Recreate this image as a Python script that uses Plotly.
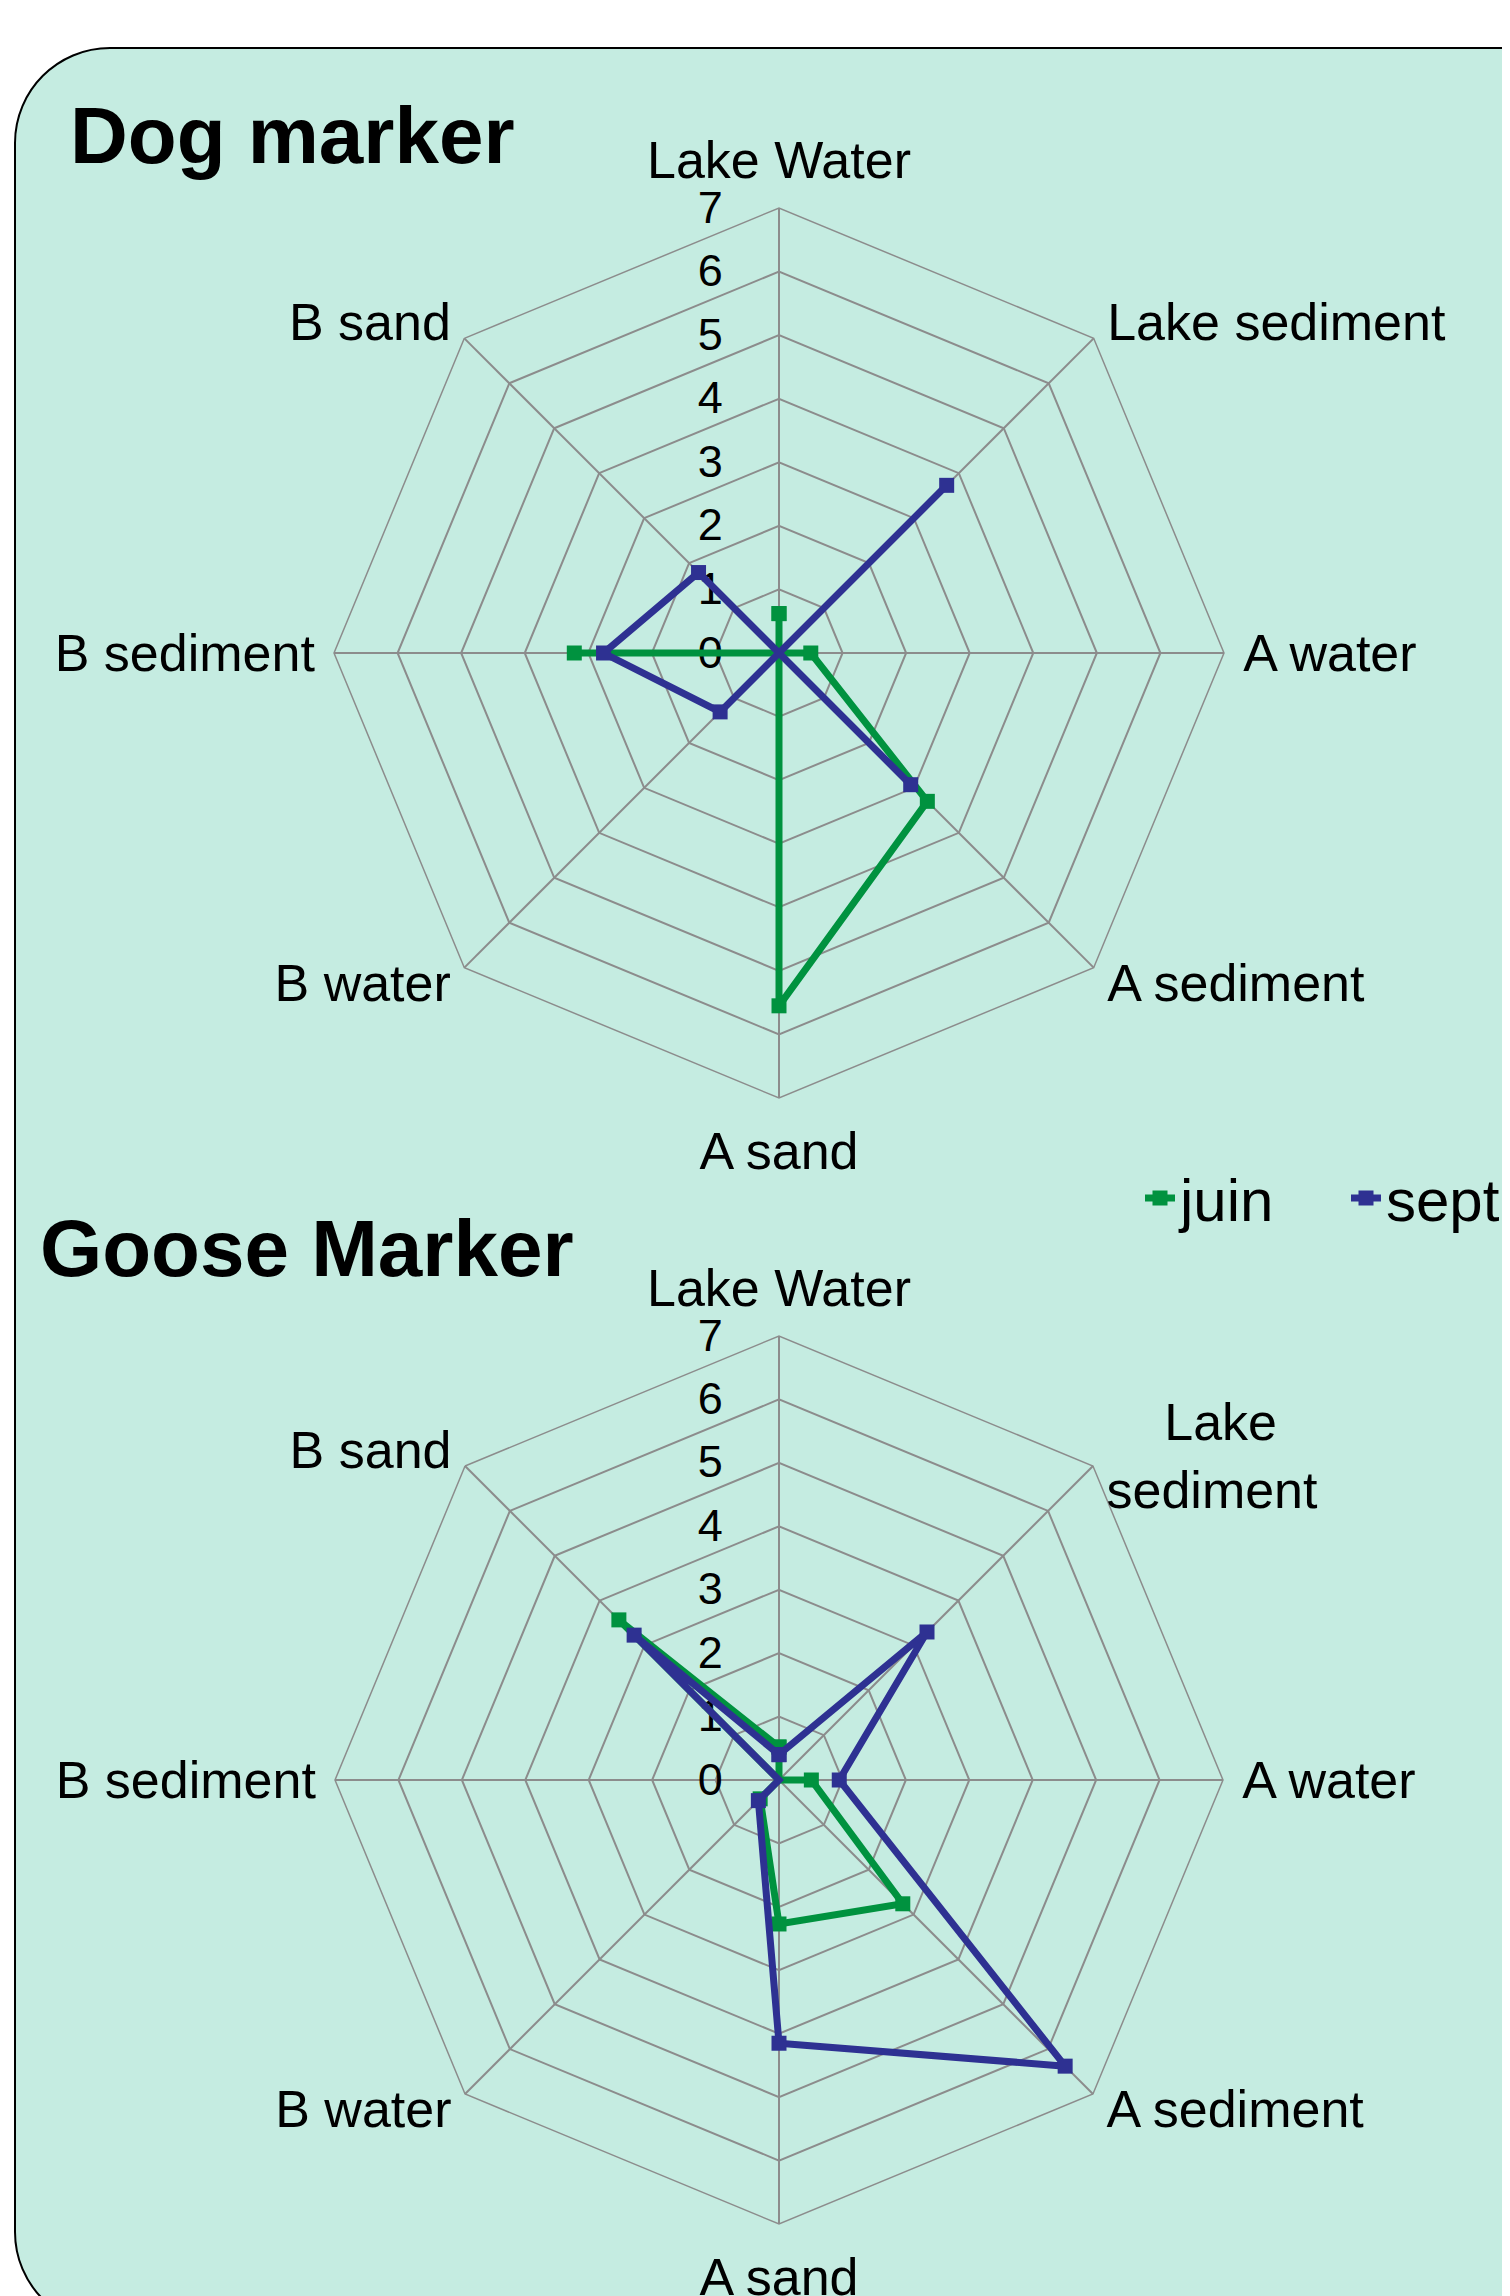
import plotly.graph_objects as go

# ---------------- data ----------------
categories = ["Lake Water", "Lake sediment", "A water", "A sediment",
              "A sand", "B water", "B sediment", "B sand"]
NB = "\u00a0"
dog_labels = ["Lake Water", NB + "<br>Lake sediment", "A water",
              "A sediment<br>" + NB + "<br>" + NB + "<br>" + NB,
              "A sand", "B water<br>" + NB + "<br>" + NB + "<br>" + NB,
              "B sediment", NB + "<br>B sand"]
goose_labels = ["Lake Water",
                NB + "<br>" + NB + "<br>" + NB + "<br>" + NB + "<br>" + NB * 4 + "Lake<br>sediment",
                "A water",
                "A sediment<br>" + NB + "<br>" + NB + "<br>" + NB,
                "A sand", "B water<br>" + NB + "<br>" + NB + "<br>" + NB,
                "B sediment", NB + "<br>B sand"]

dog_juin = [0.62, 0.0, 0.5, 3.30, 5.55, 0.0, 3.22, 0.0]
dog_sept = [0.0, 3.73, 0.0, 2.93, 0.0, 1.31, 2.76, 1.79]

goose_juin = [0.52, 0.0, 0.51, 2.76, 2.27, 0.42, 0.0, 3.57]
goose_sept = [0.40, 3.30, 0.95, 6.38, 4.15, 0.46, 0.0, 3.23]

radial_ticks = [0, 1, 2, 3, 4, 5, 6, 7]
series_names = ["juin", "sept"]
series_colors = ["#00923F", "#2E3192"]

W, H = 1510, 2296
OFF = 8  # page body margin of the html page
FONT = "Liberation Sans, Arial, sans-serif"
GRID = "#8C8C8C"


def closed(v):
    return list(v) + [v[0]]


fig = go.Figure()

for sub, (vals_j, vals_s) in zip(["polar", "polar2"], [(dog_juin, dog_sept), (goose_juin, goose_sept)]):
    for name, vals, col in zip(series_names, [vals_j, vals_s], series_colors):
        fig.add_trace(go.Scatterpolar(
            r=closed(vals), theta=closed(categories), name=name,
            mode="lines+markers", subplot=sub,
            line=dict(color=col, width=7),
            marker=dict(symbol="square", size=15, color=col),
            legendgroup=name, showlegend=(sub == "polar"),
            cliponaxis=False,
        ))


def px_x(x):
    return (x - OFF) / W


def px_y(y):
    return 1 - (y - OFF) / H


def polar_layout(cx, cy, R, labels):
    return dict(
        domain=dict(x=[px_x(cx - R), px_x(cx + R)], y=[px_y(cy + R), px_y(cy - R)]),
        bgcolor="rgba(0,0,0,0)",
        gridshape="linear",
        angularaxis=dict(
            type="category", categoryarray=categories,
            tickmode="array", tickvals=categories, ticktext=labels,
            direction="clockwise", rotation=90,
            showline=True, linecolor=GRID, linewidth=1.5,
            showgrid=True, gridcolor=GRID, gridwidth=1.5,
            ticks="outside", ticklen=8, tickcolor="rgba(0,0,0,0)",
            tickfont=dict(family=FONT, size=52, color="black"),
        ),
        radialaxis=dict(
            range=[0, 7], tickvals=radial_ticks, angle=90,
            side="counterclockwise",
            showline=False, showgrid=True, gridcolor=GRID, gridwidth=1.5,
            ticks="outside", ticklen=40, tickcolor="rgba(0,0,0,0)",
            tickfont=dict(family=FONT, size=45, color="black"),
            tickangle=90,
            layer="below traces",
        ),
    )


# rounded panel
L, T, Rr, B, rad = 15, 48, 1570, 2327, 95
k = 0.5523 * rad
pts = [
    ("M", [(L + rad, T)]),
    ("L", [(Rr, T)]),
    ("L", [(Rr, B)]),
    ("L", [(L + rad, B)]),
    ("C", [(L + rad - k, B), (L, B - rad + k), (L, B - rad)]),
    ("L", [(L, T + rad)]),
    ("C", [(L, T + rad - k), (L + rad - k, T), (L + rad, T)]),
]
path = ""
for cmd, ps in pts:
    path += cmd + " " + " ".join(f"{px_x(x):.5f},{px_y(y):.5f}" for x, y in ps) + " "
path += "Z"

fig.update_layout(
    width=W, height=H,
    margin=dict(l=0, r=0, t=0, b=0, autoexpand=False),
    paper_bgcolor="white",
    plot_bgcolor="rgba(0,0,0,0)",
    font=dict(family=FONT, color="black"),
    polar=polar_layout(779, 653, 445, dog_labels),
    polar2=polar_layout(779, 1780, 444, goose_labels),
    shapes=[dict(type="path", path=path, xref="paper", yref="paper",
                 fillcolor="#C5ECE1", line=dict(color="black", width=2), layer="below")],
    annotations=[
        dict(text="<b>Dog marker</b>", x=px_x(68), y=px_y(136), xref="paper", yref="paper",
             xanchor="left", yanchor="middle", showarrow=False,
             font=dict(family=FONT, size=80, color="black")),
        dict(text="<b>Goose Marker</b>", x=px_x(38), y=px_y(1248), xref="paper", yref="paper",
             xanchor="left", yanchor="middle", showarrow=False,
             font=dict(family=FONT, size=80, color="black")),
    ],
    legend=dict(
        orientation="h", x=px_x(1140), y=px_y(1198), xanchor="left", yanchor="middle",
        bgcolor="rgba(0,0,0,0)", borderwidth=0,
        font=dict(family=FONT, size=60, color="black"),
        itemwidth=30, entrywidth=161, entrywidthmode="pixels",
    ),
)

fig.write_html("out.html")
